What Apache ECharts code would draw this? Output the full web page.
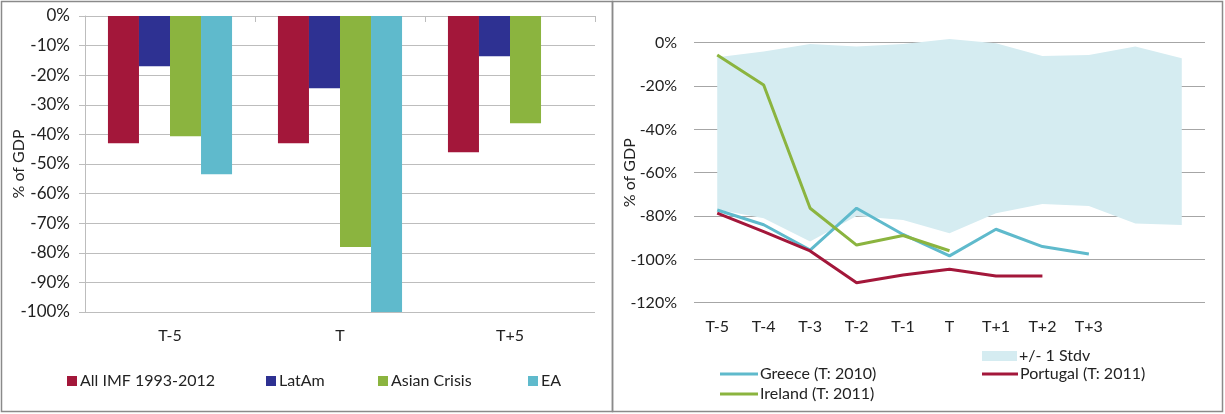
<!DOCTYPE html>
<html>
<head>
<meta charset="utf-8">
<script src="https://cdn.jsdelivr.net/npm/echarts@6/dist/echarts.min.js"></script>
<style>
  html, body { margin: 0; padding: 0; background: #fff; }
  #chart { width: 1225px; height: 414px; }
</style>
</head>
<body>
<div id="chart"></div>
<script>
// ---- Left panel data ----
var barCategories = ['T-5', 'T', 'T+5'];
var allImf = [-0.43, -0.43, -0.46];
var latAm = [-0.17, -0.244, -0.136];
var asianCrisis = [-0.406, -0.78, -0.362];
var ea = [-0.535, -1.0, null];
var barTicks = [0, -0.1, -0.2, -0.3, -0.4, -0.5, -0.6, -0.7, -0.8, -0.9, -1.0];

// ---- Right panel data ----
var lineCategories = ['T-5', 'T-4', 'T-3', 'T-2', 'T-1', 'T', 'T+1', 'T+2', 'T+3', ' ', '  '];
var bandUpper = [-0.067, -0.041, -0.006, -0.018, -0.006, 0.017, -0.003, -0.061, -0.057, -0.018, -0.072];
var bandLower = [-0.77, -0.81, -0.918, -0.80, -0.818, -0.88, -0.787, -0.744, -0.754, -0.834, -0.841];
var greece = [-0.772, -0.84, -0.957, -0.764, -0.885, -0.984, -0.861, -0.941, -0.975, null, null];
var ireland = [-0.057, -0.195, -0.764, -0.934, -0.89, -0.96, null, null, null, null, null];
var portugal = [-0.787, -0.872, -0.961, -1.108, -1.072, -1.046, -1.077, -1.077, null, null, null];

var bandWidth = bandUpper.map(function (u, i) { return u - bandLower[i]; });

var C_RED = '#A3173A', C_BLUE = '#2E3192', C_GREEN = '#8BB43F', C_CYAN = '#5FBACC', C_BAND = '#D5ECF1';
var FONT = 'Lato';
var TXT = '#222';

function pct(v) { return Math.round(v * 100) + '%'; }

var chart = echarts.init(document.getElementById('chart'), null, { renderer: 'canvas' });

function sqLegend(name, left, top) {
  return {
    data: [name], left: left, top: top, orient: 'horizontal',
    icon: 'rect', itemWidth: 10, itemHeight: 10, itemGap: 0, padding: 0,
    textStyle: { fontFamily: FONT, fontSize: 16, color: TXT, padding: [0, 0, 0, -2] },
    selectedMode: false
  };
}
function lineLegend(name, left, top, w, h, icon) {
  return {
    data: [{ name: name, icon: icon || 'rect' }], left: left, top: top, orient: 'horizontal',
    itemWidth: w, itemHeight: h, itemGap: 0, padding: 0,
    textStyle: { fontFamily: FONT, fontSize: 16, color: TXT, padding: [0, 0, 0, -3] },
    selectedMode: false
  };
}

var option = {
  animation: false,
  backgroundColor: '#fff',
  textStyle: { fontFamily: FONT },
  graphic: [
    { type: 'rect', shape: { x: 1.5, y: 1.5, width: 611, height: 410 }, style: { fill: 'none', stroke: '#8a8a8a', lineWidth: 1.5 }, silent: true },
    { type: 'rect', shape: { x: 612.5, y: 1.5, width: 610, height: 410 }, style: { fill: 'none', stroke: '#8a8a8a', lineWidth: 1.5 }, silent: true }
  ],
  legend: [
    sqLegend('All IMF 1993-2012', 67, 373),
    sqLegend('LatAm', 266, 373),
    sqLegend('Asian Crisis', 378, 373),
    sqLegend('EA', 528, 373),
    lineLegend('+/- 1 Stdv', 982, 348, 35, 10),
    lineLegend('Greece (T: 2010)', 720, 366, 38, 3),
    lineLegend('Portugal (T: 2011)', 982, 366, 36, 3),
    lineLegend('Ireland (T: 2011)', 720, 386, 38, 3)
  ],
  grid: [
    { left: 85, top: 16, width: 510, height: 296, containLabel: false },
    { left: 694, top: 42.7, width: 511, height: 260, containLabel: false }
  ],
  xAxis: [
    {
      gridIndex: 0, type: 'category', data: barCategories, position: 'bottom',
      axisLine: { show: false }, axisTick: { show: false },
      axisLabel: { fontFamily: FONT, fontSize: 16, color: TXT, margin: 16 }
    },
    {
      gridIndex: 0, type: 'category', data: barCategories, position: 'top',
      axisLine: { show: true, lineStyle: { color: '#bdbdbd', width: 1 } },
      axisTick: { show: true, inside: true, length: 6, lineStyle: { color: '#bdbdbd' } },
      axisLabel: { show: false }
    },
    {
      gridIndex: 1, type: 'category', data: lineCategories, boundaryGap: true,
      axisLine: { show: false }, axisTick: { show: false },
      axisLabel: { fontFamily: FONT, fontSize: 16, color: TXT, margin: 16, interval: 0 }
    }
  ],
  yAxis: [
    {
      gridIndex: 0, type: 'value', min: -1.0, max: 0, interval: 0.1,
      name: '% of GDP', nameLocation: 'middle', nameGap: 58, nameRotate: 90, nameMoveOverlap: false,
      nameTextStyle: { fontFamily: FONT, fontSize: 16, color: TXT },
      axisLine: { show: true, lineStyle: { color: '#bdbdbd' } },
      axisTick: { show: true, length: 6, lineStyle: { color: '#bdbdbd' } },
      axisLabel: { fontFamily: FONT, fontSize: 17, color: TXT, margin: 15, formatter: pct },
      splitLine: { show: true, lineStyle: { color: '#bdbdbd', width: 1 } }
    },
    {
      gridIndex: 1, type: 'value', min: -1.2, max: 0, interval: 0.2,
      name: '% of GDP', nameLocation: 'middle', nameGap: 56, nameRotate: 90, nameMoveOverlap: false,
      nameTextStyle: { fontFamily: FONT, fontSize: 16, color: TXT },
      axisLine: { show: false }, axisTick: { show: false },
      axisLabel: { fontFamily: FONT, fontSize: 16, color: TXT, margin: 17, formatter: pct },
      splitLine: { show: true, lineStyle: { color: '#a6a6a6', width: 1 } }
    }
  ],
  series: [
    { name: 'All IMF 1993-2012', type: 'bar', xAxisIndex: 0, yAxisIndex: 0, data: allImf, itemStyle: { color: C_RED }, barGap: '0%', barCategoryGap: '27%' },
    { name: 'LatAm', type: 'bar', xAxisIndex: 0, yAxisIndex: 0, data: latAm, itemStyle: { color: C_BLUE }, barGap: '0%', barCategoryGap: '27%' },
    { name: 'Asian Crisis', type: 'bar', xAxisIndex: 0, yAxisIndex: 0, data: asianCrisis, itemStyle: { color: C_GREEN }, barGap: '0%', barCategoryGap: '27%' },
    { name: 'EA', type: 'bar', xAxisIndex: 0, yAxisIndex: 0, data: ea, itemStyle: { color: C_CYAN }, barGap: '0%', barCategoryGap: '27%' },

    { name: 'band-base', type: 'line', xAxisIndex: 2, yAxisIndex: 1, data: bandLower, stack: 'band', stackStrategy: 'all',
      symbol: 'none', lineStyle: { width: 0, opacity: 0 }, silent: true, clip: false, z: 1 },
    { name: '+/- 1 Stdv', type: 'line', xAxisIndex: 2, yAxisIndex: 1, data: bandWidth, stack: 'band', stackStrategy: 'all',
      symbol: 'none', lineStyle: { width: 0, opacity: 0 }, itemStyle: { color: C_BAND },
      areaStyle: { color: C_BAND, opacity: 1 }, silent: true, clip: false, z: 1 },
    { name: 'Greece (T: 2010)', type: 'line', xAxisIndex: 2, yAxisIndex: 1, data: greece, symbol: 'none',
      lineStyle: { color: C_CYAN, width: 3 }, itemStyle: { color: C_CYAN }, z: 3 },
    { name: 'Portugal (T: 2011)', type: 'line', xAxisIndex: 2, yAxisIndex: 1, data: portugal, symbol: 'none',
      lineStyle: { color: C_RED, width: 3 }, itemStyle: { color: C_RED }, z: 4 },
    { name: 'Ireland (T: 2011)', type: 'line', xAxisIndex: 2, yAxisIndex: 1, data: ireland, symbol: 'none',
      lineStyle: { color: C_GREEN, width: 3 }, itemStyle: { color: C_GREEN }, z: 5 }
  ]
};

chart.setOption(option);
</script>
</body>
</html>
